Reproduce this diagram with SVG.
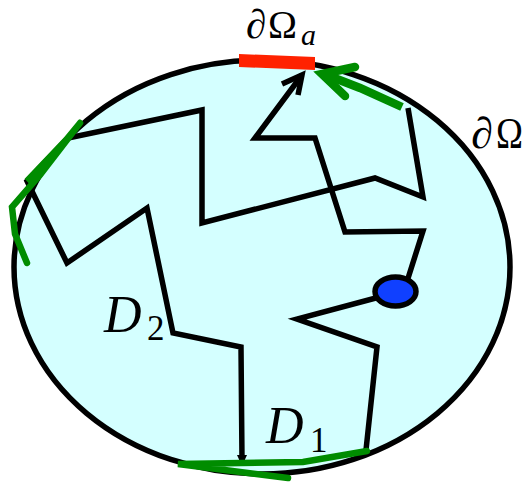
<svg xmlns="http://www.w3.org/2000/svg" width="528" height="484" viewBox="0 0 528 484">
<style>
.blk{fill:none;stroke:#000;stroke-width:5.5;stroke-linejoin:miter;stroke-linecap:butt}
.grn{fill:none;stroke:#008c00;stroke-width:6.5;stroke-linejoin:miter;stroke-linecap:round}
.t{font-family:"Liberation Serif","DejaVu Serif",serif;fill:#000}
.it{font-style:italic}
</style>
<rect width="528" height="484" fill="#fff"/>
<g id="domain">
<ellipse cx="262" cy="267" rx="248" ry="207" fill="#d4ffff" stroke="#000" stroke-width="5.5"/>
</g>
<g id="connectors">
<path class="blk" d="M404,291 L423,231 L345,232 L315,138 L255,138 L302,75"/>
<path class="blk" d="M282,84 L302,75 L298,95"/>
<path class="blk" d="M408,108 L423,197 L375,178 L202,223 L202,110 L68,138 L27,181 L67,263 L147,208 L173,333 L241,347 L242,460"/>
<path d="M237,455 L242,466 L247,455 Z" fill="#000"/>
<path class="blk" d="M402,291 L297,319 L377,347 L366,450"/>
<path class="grn" d="M367,451 L303,462 L178,464 L288,478"/>
<path class="grn" d="M80,123 L66,140 L27,181 L46,167 M80,123 L40,175 L12,207 L15,234 L27,263"/>
<path class="grn" style="stroke-width:8.5;stroke-linecap:butt" d="M402,107 L360,88 L324,74"/>
<path class="grn" style="stroke-width:8.5" d="M355,67 L322,74 L345,96"/>
</g>
<g id="target">
<path d="M239,54 L315,57 L315,70 L239,67 Z" fill="#ff2200"/>
</g>
<g id="start">
<ellipse cx="395.5" cy="291.5" rx="20.5" ry="14.5" fill="#1040ff" stroke="#000" stroke-width="5.5"/>
</g>
<g id="labels">
<text class="t" x="246" y="38" font-size="41">∂</text>
<text class="t" x="268" y="38" font-size="41" textLength="29" lengthAdjust="spacingAndGlyphs">Ω</text>
<text class="t it" x="301" y="45" font-size="30">a</text>
<text class="t" x="471" y="148" font-size="44">∂</text>
<text class="t" x="496" y="148" font-size="44" textLength="27" lengthAdjust="spacingAndGlyphs">Ω</text>
<text class="t it" x="104" y="332" font-size="52">D</text>
<text class="t" x="147" y="340" font-size="35">2</text>
<text class="t it" x="266" y="443" font-size="52">D</text>
<text class="t" x="310" y="452" font-size="35">1</text>
</g>
</svg>
